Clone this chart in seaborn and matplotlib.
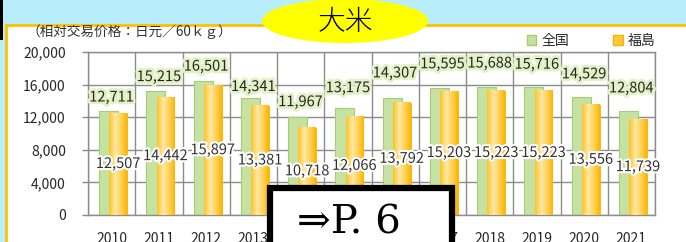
import numpy as np
import pandas as pd
import matplotlib
matplotlib.use("Agg")
import matplotlib.pyplot as plt
import seaborn as sns
from matplotlib.patches import Rectangle, Ellipse, Patch
import matplotlib.patheffects as pe
from matplotlib.colors import LinearSegmentedColormap

# ---------------- data ----------------
years = [2010, 2011, 2012, 2013, 2014, 2015, 2016, 2017, 2018, 2019, 2020, 2021]
national = [12711, 15215, 16501, 14341, 11967, 13175, 14307, 15595, 15688, 15716, 14529, 12804]
fukushima = [12507, 14442, 15897, 13381, 10718, 12066, 13792, 15203, 15223, 15223, 13556, 11739]
series_names = ["全国", "福島"]
y_ticks = [0, 4000, 8000, 12000, 16000, 20000]
title_text = "大米"
unit_text = "（相対交易价格：日元／60ｋｇ）"
page_ref = "⇒P. 6"

# label offsets above the national bars (points) - styling only
nat_label_offsets = [10, 10, 10, 8, 11, 14, 18, 17, 17, 16, 16, 16]

W, H = 686, 242
GREEN = "#C6E2A2"
GREEN_EDGE = "#A2CF72"
ORANGE = "#FFC93C"
ORANGE_EDGE = "#F5B400"
GRID = "#8C8C8C"

sns.set_theme(style="white")
plt.rcParams["font.family"] = ["Noto Sans CJK JP", "DejaVu Sans"]

df = pd.DataFrame({
    "year": [str(y) for y in years] * 2,
    "value": national + fukushima,
    "series": [series_names[0]] * len(years) + [series_names[1]] * len(years),
})

fig = plt.figure(figsize=(W / 100, H / 100), dpi=100)
fig.patch.set_facecolor("#B8EEFB")

# white panel with orange border
fig.add_artist(Rectangle((6 / W, -0.2), 1.2, (H - 25) / H + 0.2, transform=fig.transFigure,
                         facecolor="white", edgecolor="#FFC000", lw=2, zorder=-1))
# small black mark at top-left
fig.add_artist(Rectangle((0, 1 - 40 / H), 3 / W, 40 / H, transform=fig.transFigure,
                         facecolor="black", edgecolor="none", zorder=-0.5))

ax = fig.add_axes([88 / W, 27 / H, 567 / W, 163 / H])
ax.set_facecolor("white")
sns.barplot(data=df, x="year", y="value", hue="series", palette=[GREEN, ORANGE],
            dodge=True, width=0.8, legend=False, saturation=1, ax=ax, errorbar=None)

green_bars = ax.containers[0]
orange_bars = ax.containers[1]
for b in green_bars:
    b.set_x(b.get_x() + 0.136)
    b.set_width(0.40)
    b.set_edgecolor(GREEN_EDGE)
    b.set_linewidth(0.8)
    b.set_zorder(2)
cmap = LinearSegmentedColormap.from_list(
    "og", [(0.0, "#FFC21F"), (0.35, "#FFE9A6"), (0.75, "#FFCC45"), (1.0, "#FFB300")])
for b in orange_bars:
    b.set_x(b.get_x() - 0.05)
    b.set_width(0.38)
    b.set_edgecolor(ORANGE_EDGE)
    b.set_linewidth(0.6)
    b.set_zorder(3)
    x0, w, h = b.get_x(), b.get_width(), b.get_height()
    ax.imshow(np.linspace(0, 1, 64)[None, :], cmap=cmap, extent=[x0, x0 + w, 0, h],
              aspect="auto", zorder=3.1, interpolation="bilinear")

ax.set_xlim(-0.5, len(years) - 0.5)
ax.set_ylim(0, 20000)
ax.set_aspect("auto")
ax.set_axisbelow(True)

ax.set_yticks(y_ticks, labels=[f"{v:,}" for v in y_ticks])
ax.set_xticks(range(len(years)), labels=[str(y) for y in years])
ax.set_xticks(np.arange(-0.5, len(years), 1.0), minor=True)
ax.grid(axis="y", which="major", color=GRID, lw=1.0)
ax.grid(axis="x", which="minor", color=GRID, lw=1.0)
ax.grid(axis="x", which="major", visible=False)
ax.tick_params(axis="x", which="major", length=0, pad=12, labelsize=10, labelcolor="#262626")
ax.tick_params(axis="x", which="minor", length=4, width=1.0, color=GRID, direction="out")
ax.tick_params(axis="y", which="major", length=4, width=1.0, color=GRID, direction="out",
               pad=12, labelsize=10, labelcolor="#262626", left=True)
for s in ax.spines.values():
    s.set_color(GRID)
    s.set_linewidth(1.0)
ax.set_xlabel("")
ax.set_ylabel("")

# value labels
glow_g = [pe.withStroke(linewidth=4, foreground="#E3F2C6")]
glow_w = [pe.withStroke(linewidth=3, foreground="white")]
for i, (b, v) in enumerate(zip(green_bars, national)):
    ax.annotate(f"{v:,}", (i, b.get_height()), xytext=(0, nat_label_offsets[i]),
                textcoords="offset points", ha="center", va="center", fontsize=10.5,
                color="#262626", path_effects=glow_g, zorder=6)
for b, v in zip(orange_bars, fukushima):
    ax.text(b.get_x() + b.get_width() / 2, b.get_height() / 2, f"{v:,}", ha="center",
            va="center", fontsize=10.5, color="#333333", path_effects=glow_w, zorder=6)

# legend
handles = [Patch(facecolor=GREEN, edgecolor=GREEN_EDGE), Patch(facecolor=ORANGE, edgecolor=ORANGE_EDGE)]
fig.legend(handles, series_names, loc="center left", bbox_to_anchor=(514 / W, 1 - 41 / H),
           ncol=2, frameon=False, handlelength=0.7, handleheight=0.7, handletextpad=0.35,
           columnspacing=3.2, fontsize=10, labelcolor="#262626")

# unit label
fig.text(26 / W, 1 - 32 / H, unit_text, fontsize=9.8, color="#333333", ha="left", va="center")

# title ellipse
fig.add_artist(Ellipse((345 / W, 1 - 21 / H), 166 / W, 44 / H, transform=fig.transFigure,
                       facecolor="#FFFF00", edgecolor="none", zorder=4))
fig.text(345 / W, 1 - 22 / H, title_text, fontsize=20, ha="center", va="center", zorder=5,
         color="black", fontweight="light")

# page reference box
fig.add_artist(Rectangle((270 / W, -0.2), 182 / W, (H - 188) / H + 0.2, transform=fig.transFigure,
                         facecolor="white", edgecolor="black", lw=4.5, zorder=7))
fig.text(349 / W, 1 - 233 / H, page_ref, fontsize=29, ha="center", va="baseline",
         family=["DejaVu Serif", "Noto Sans CJK JP"], zorder=8, color="black")

fig.savefig("out.png", dpi=100, facecolor=fig.get_facecolor())
